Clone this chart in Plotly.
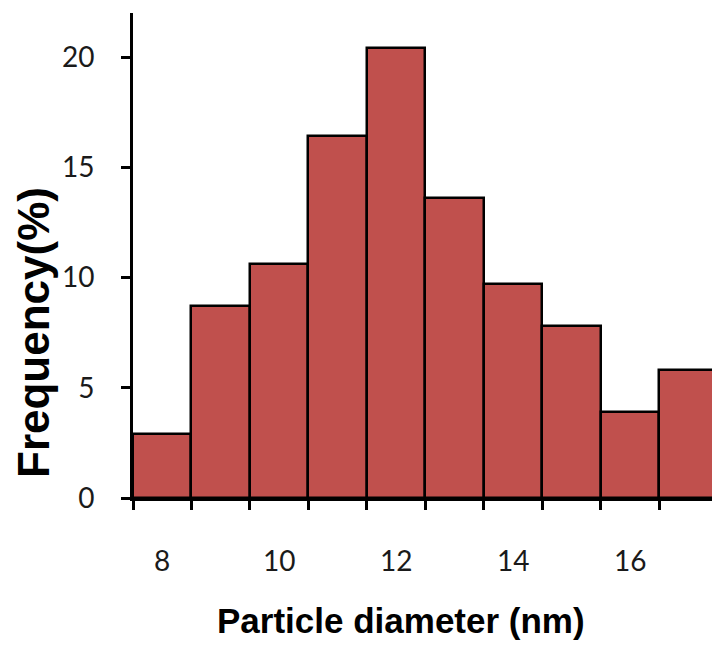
import plotly.graph_objects as go

diameters = [8, 9, 10, 11, 12, 13, 14, 15, 16, 17]
frequency = [2.9, 8.7, 10.6, 16.4, 20.4, 13.6, 9.7, 7.8, 3.9, 5.8]
x_tick_vals = [8, 10, 12, 14, 16]
x_tick_text = ["8", "10", "12", "14", "16"]
y_tick_vals = [0, 5, 10, 15, 20]
boundaries = [d - 0.5 for d in diameters] + [diameters[-1] + 0.5]

fig = go.Figure()
fig.add_trace(go.Bar(
    x=diameters, y=frequency, width=1,
    marker=dict(color="#C0504D", line=dict(color="black", width=2.5)),
))

label_font = dict(family="Lato, Open Sans, sans-serif", size=28, color="#1a1a1a")
xtitle_font = dict(family="Liberation Sans, Arial, sans-serif", size=35, color="black")
ytitle_font = dict(family="Liberation Sans, Arial, sans-serif", size=44, color="black")

fig.update_layout(
    width=712, height=648,
    margin=dict(l=133, r=0, t=13, b=150),
    plot_bgcolor="white", paper_bgcolor="white",
    showlegend=False,
    bargap=0,
    xaxis=dict(
        range=[7.5, 17.4],
        tickvals=x_tick_vals, ticktext=x_tick_text,
        ticks="", tickfont=label_font,
        ticklabelstandoff=36,
        showline=True, linecolor="black", linewidth=3,
        showgrid=False, zeroline=False,
        minor=dict(tickvals=boundaries, ticks="outside", ticklen=9,
                   tickwidth=3, tickcolor="black", showgrid=False),
    ),
    yaxis=dict(
        range=[0, 22],
        tickvals=y_tick_vals,
        ticks="outside", ticklen=9, tickwidth=3, tickcolor="black",
        tickfont=label_font, ticklabelstandoff=21,
        showline=True, linecolor="black", linewidth=3,
        showgrid=False, zeroline=False,
    ),
)

fig.add_annotation(text="<b>Particle diameter (nm)</b>", xref="paper", yref="paper",
                   x=(401 - 133) / (712 - 133), y=-(620 - 498) / (498 - 13),
                   showarrow=False, font=xtitle_font, xanchor="center", yanchor="middle")
fig.add_annotation(text="<b>Frequency(%)</b>", xref="paper", yref="paper",
                   x=-(133 - 33) / (712 - 133), y=(498 - 333) / (498 - 13),
                   textangle=-90,
                   showarrow=False, font=ytitle_font, xanchor="center", yanchor="middle")

fig.write_html("out.html")
